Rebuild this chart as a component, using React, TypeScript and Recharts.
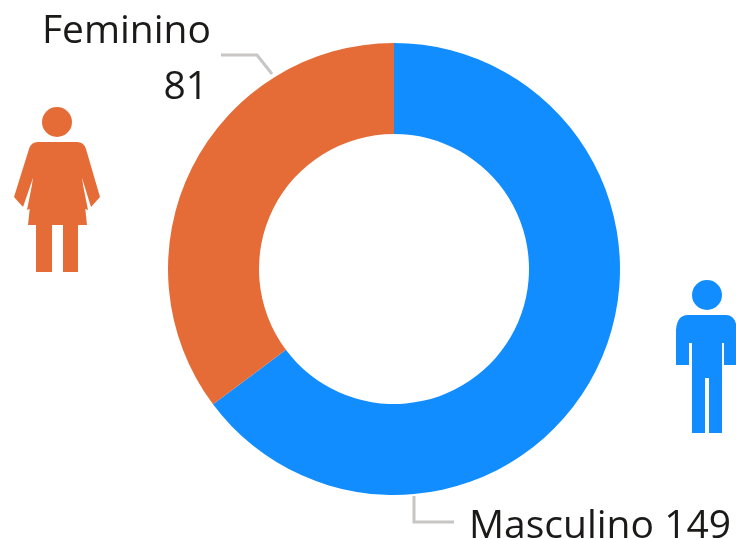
import { PieChart, Pie, Cell } from "recharts";

const categories = ["Masculino", "Feminino"];
const values = [149, 81];
const colors = ["#118DFF", "#E66C37"];

const data = categories.map((name, i) => ({ name, value: values[i] }));

const textColor = "#1B1A19";
const lineColor = "#C8C6C4";
const fontFamily = '"Open Sans", sans-serif';
const labelSize = 39;

// the labels sit away from the slice midpoints, so they are placed by hand (offset from pie centre)
const GenderLabel = (props: any) => {
  const { cx, cy, index } = props;
  if (index === 0) {
    return (
      <g>
        <polyline
          points={`${cx + 20},${cy + 227} ${cx + 20},${cy + 253} ${cx + 60},${cy + 253}`}
          fill="none"
          stroke={lineColor}
          strokeWidth={3}
        />
        <text x={cx + 75} y={cy + 269} fontSize={labelSize} fontFamily={fontFamily} fill={textColor}>
          {categories[0]} {values[0]}
        </text>
      </g>
    );
  }
  return (
    <g>
      <polyline
        points={`${cx - 173},${cy - 214} ${cx - 137},${cy - 214} ${cx - 122},${cy - 195}`}
        fill="none"
        stroke={lineColor}
        strokeWidth={3}
      />
      <text x={cx - 183} y={cy - 226} textAnchor="end" fontSize={labelSize} fontFamily={fontFamily} fill={textColor}>
        {categories[1]}
      </text>
      <text x={cx - 186} y={cy - 170} textAnchor="end" fontSize={labelSize} fontFamily={fontFamily} fill={textColor}>
        {values[1]}
      </text>
    </g>
  );
};

const WomanIcon = () => (
  <g fill={colors[1]}>
    <circle cx={57} cy={122} r={15} />
    <path d="M38 142 H77 Q84 142 86 149 L100 197 L91 207 L82 178 L87 225 H28 L33 178 L23 207 L14 197 L29 149 Q31 142 38 142 Z" />
    <path d="M33 180 L35 207 L27 210 Z" />
    <path d="M82 180 L80 207 L88 210 Z" />
    <rect x={36} y={222} width={16} height={50} />
    <rect x={63} y={222} width={15} height={50} />
  </g>
);

const ManIcon = () => (
  <g fill={colors[0]}>
    <circle cx={707} cy={295} r={15} />
    <path d="M688 315 H726 Q736 315 737 330 V365 H724 V343 H722 V433 H709 V378 H705 V433 H692 V343 H689 V365 H676 V330 Q677 315 688 315 Z" />
  </g>
);

export default function App() {
  return (
    <div
      style={{
        position: "absolute",
        left: 0,
        top: 0,
        width: 736,
        height: 539,
        overflow: "hidden",
        background: "#fff",
        filter: "blur(0.6px)",
      }}
    >
      <PieChart width={736} height={539} margin={{ top: 0, right: 0, bottom: 0, left: 0 }}>
        <Pie
          data={data}
          dataKey="value"
          nameKey="name"
          cx={394}
          cy={269}
          innerRadius={135}
          outerRadius={226}
          startAngle={90}
          endAngle={-270}
          stroke="none"
          label={<GenderLabel />}
          labelLine={false}
          isAnimationActive={false}
        >
          {data.map((d, i) => (
            <Cell key={d.name} fill={colors[i]} />
          ))}
        </Pie>
      </PieChart>
      <svg width={736} height={539} style={{ position: "absolute", left: 0, top: 0, pointerEvents: "none" }}>
        <WomanIcon />
        <ManIcon />
      </svg>
    </div>
  );
}
